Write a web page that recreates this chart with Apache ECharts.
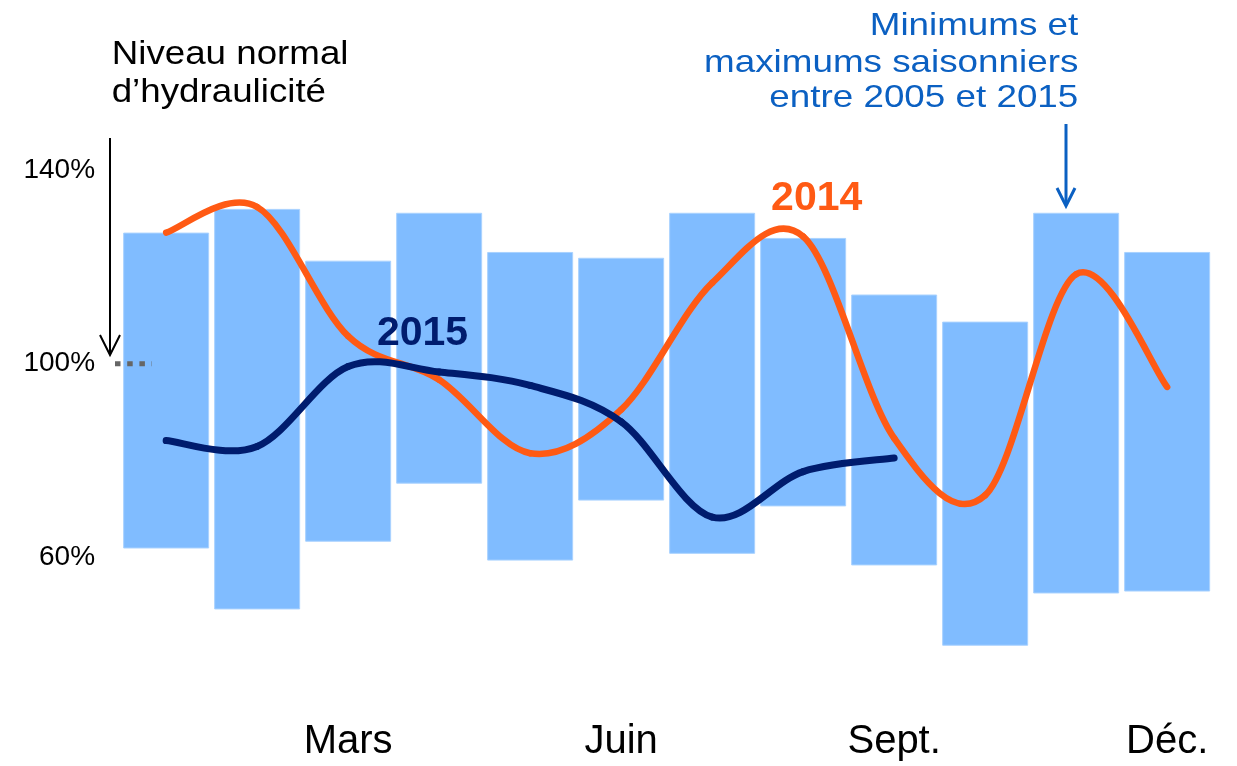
<!DOCTYPE html>
<html>
<head>
<meta charset="utf-8">
<script src="https://cdn.jsdelivr.net/npm/echarts@6/dist/echarts.min.js"></script>
<style>
html,body{margin:0;padding:0;background:#fff;}
#chart{width:1237px;height:766px;}
</style>
</head>
<body>
<div id="chart"></div>
<script>
// ---- data ----
const months = ['Janv.','Févr.','Mars','Avr.','Mai','Juin','Juil.','Août','Sept.','Oct.','Nov.','Déc.'];
const shownMonths = ['Mars','Juin','Sept.','Déc.'];
const seasonalMin = [61.8, 49.2, 63.2, 75.2, 59.3, 71.7, 60.7, 70.5, 58.3, 41.7, 52.5, 52.9];
const seasonalMax = [127.1, 132.0, 121.3, 131.2, 123.1, 121.9, 131.2, 126.0, 114.3, 108.7, 131.2, 123.1];
const y2014 = [127.1, 132.4, 105.7, 96.7, 81.5, 90.5, 116.7, 126.3, 84.6, 72.8, 118.5, 95.2];
const y2015 = [84.1, 82.9, 99.4, 98.3, 95.5, 88.0, 68.3, 77.7, 80.5, null, null, null];
const yTickLabels = [60, 100, 140];

const FONT = "'Liberation Sans', Arial, sans-serif";
const ORANGE = '#FF5A14';
const NAVY = '#001C6E';
const BLUE = '#0B60C2';
const chart = echarts.init(document.getElementById('chart'), null, {renderer: 'canvas'});

const rangeHeights = seasonalMax.map((v, i) => +(v - seasonalMin[i]).toFixed(2));

// Smooth (Catmull-Rom) curve segment drawn through the axis scales
function smoothSeries(values, color, width, z) {
  const data = [];
  values.forEach((v, i) => { if (v !== null) data.push([i, v]); });
  return {
    type: 'custom', z: z, silent: true,
    data: data,
    encode: {x: 0, y: 1},
    renderItem: function (params, api) {
      const i = api.value(0);
      const n = values.length;
      const has = k => k >= 0 && k < n && values[k] !== null;
      if (!has(i + 1)) return null;
      const p1 = api.coord([i, values[i]]);
      const p2 = api.coord([i + 1, values[i + 1]]);
      const p0 = has(i - 1) ? api.coord([i - 1, values[i - 1]]) : p1;
      const p3 = has(i + 2) ? api.coord([i + 2, values[i + 2]]) : p2;
      return {
        type: 'bezierCurve',
        shape: {
          x1: p1[0], y1: p1[1], x2: p2[0], y2: p2[1],
          cpx1: p1[0] + (p2[0] - p0[0]) / 6, cpy1: p1[1] + (p2[1] - p0[1]) / 6,
          cpx2: p2[0] - (p3[0] - p1[0]) / 6, cpy2: p2[1] - (p3[1] - p1[1]) / 6
        },
        style: {stroke: color, lineWidth: width, lineCap: 'round', fill: null}
      };
    }
  };
}

chart.setOption({
  animation: false,
  backgroundColor: '#ffffff',
  grid: {left: 120.65, right: 24.35, top: 73.45, bottom: 112.05, containLabel: false, outerBoundsMode: 'none'},
  xAxis: {
    type: 'category',
    data: months,
    boundaryGap: true,
    axisLine: {show: false},
    axisTick: {show: false},
    splitLine: {show: false},
    axisLabel: {
      interval: 0,
      margin: 68,
      fontSize: 40,
      fontFamily: FONT,
      color: '#000',
      formatter: v => shownMonths.indexOf(v) >= 0 ? v : ''
    }
  },
  yAxis: {
    type: 'value',
    min: 40, max: 160, interval: 20,
    axisLine: {show: false},
    axisTick: {show: false},
    splitLine: {show: false},
    axisLabel: {
      margin: 25.6,
      fontSize: 28,
      fontFamily: FONT,
      color: '#000',
      formatter: v => yTickLabels.indexOf(v) >= 0 ? v + '%' : ''
    }
  },
  series: [
    {
      type: 'bar', stack: 'range', data: seasonalMin, barWidth: 86,
      itemStyle: {color: 'rgba(0,0,0,0)'}, silent: true
    },
    {
      type: 'bar', stack: 'range', data: rangeHeights, barWidth: 86,
      itemStyle: {color: '#80BCFF', borderColor: '#A9D2FF', borderWidth: 1}
    },
    smoothSeries(y2014, ORANGE, 6.5, 5),
    smoothSeries(y2015, NAVY, 7, 6)
  ]
});

const y100 = chart.convertToPixel({yAxisIndex: 0}, 100);

function txt(x, y, text, opts) {
  return {
    type: 'text', x: x, y: y, scaleX: opts.scaleX || 1, z: 100,
    style: {
      text: text, fill: opts.color, fontSize: opts.size, fontFamily: FONT,
      fontWeight: opts.weight || 'normal',
      textAlign: opts.align || 'left', align: opts.align || 'left',
      textVerticalAlign: 'middle', verticalAlign: 'middle'
    }
  };
}

chart.setOption({
  graphic: [
    txt(111.7, 54.8, 'Niveau normal', {color: '#000', size: 32.5, scaleX: 1.13}),
    txt(111.7, 92.6, 'd\u2019hydraulicité', {color: '#000', size: 32.5, scaleX: 1.13}),
    txt(1078.3, 26.1, 'Minimums et', {color: BLUE, size: 32, scaleX: 1.15, align: 'right'}),
    txt(1078.3, 62.8, 'maximums saisonniers', {color: BLUE, size: 32, scaleX: 1.15, align: 'right'}),
    txt(1078.3, 98.4, 'entre 2005 et 2015', {color: BLUE, size: 32, scaleX: 1.15, align: 'right'}),
    txt(816.7, 199, '2014', {color: ORANGE, size: 41, weight: 'bold', align: 'center'}),
    txt(422.5, 334, '2015', {color: NAVY, size: 41, weight: 'bold', align: 'center'}),
    // black arrow
    {type: 'line', z: 100, shape: {x1: 110, y1: 138, x2: 110, y2: 355}, style: {stroke: '#000', lineWidth: 2}},
    {type: 'polyline', z: 100, shape: {points: [[100, 335], [110, 355], [120, 335]]}, style: {stroke: '#000', lineWidth: 2, fill: null}},
    // dotted normal level
    {type: 'line', z: 100, shape: {x1: 115, y1: y100, x2: 152, y2: y100}, style: {stroke: '#666666', lineWidth: 5, lineDash: [5.5, 6.7]}},
    // blue arrow
    {type: 'line', z: 100, shape: {x1: 1066, y1: 124, x2: 1066, y2: 205}, style: {stroke: BLUE, lineWidth: 3}},
    {type: 'polyline', z: 100, shape: {points: [[1057, 188], [1066, 206], [1075, 188]]}, style: {stroke: BLUE, lineWidth: 3, fill: null}}
  ]
});
</script>
</body>
</html>
